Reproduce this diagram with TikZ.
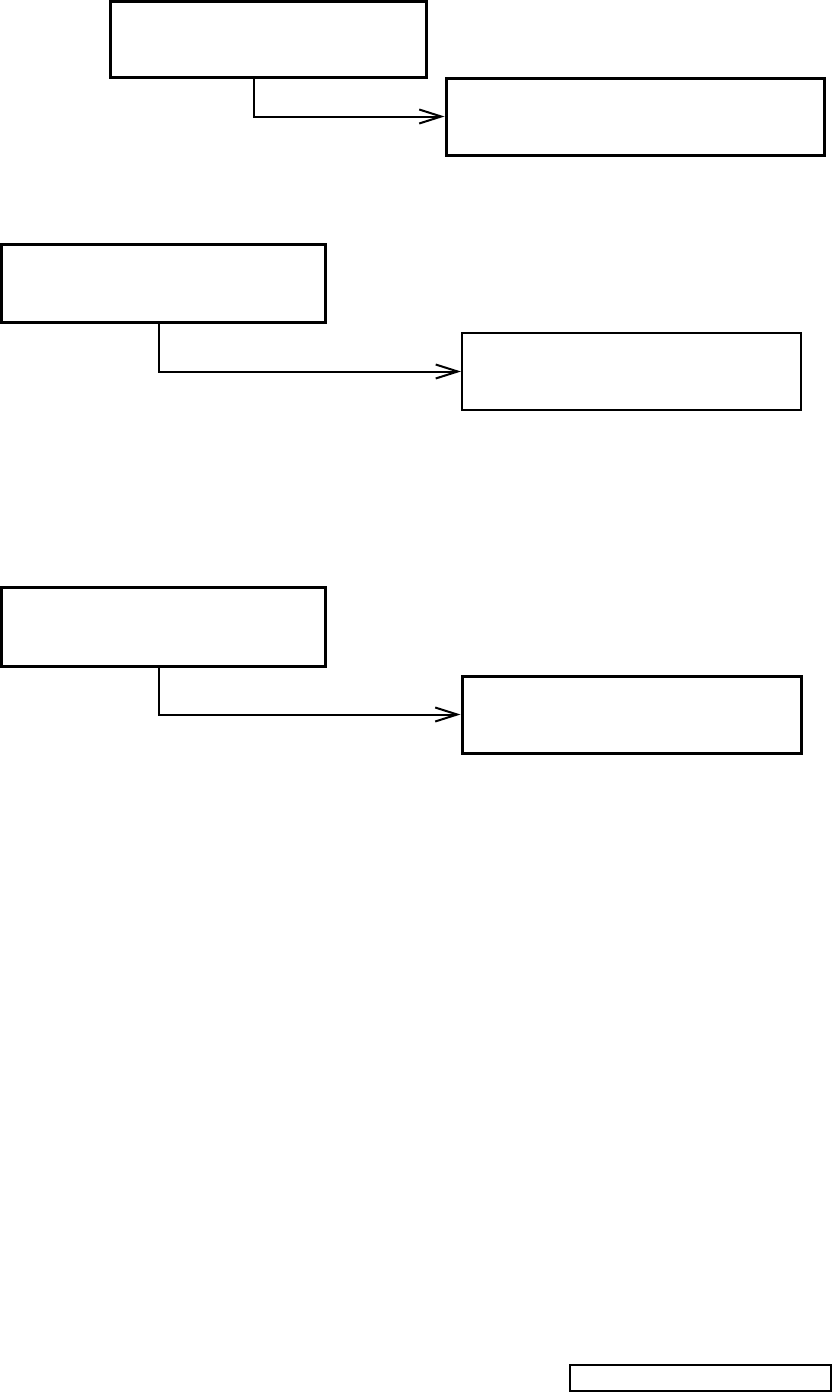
\documentclass[tikz,border=0pt]{standalone}
\usetikzlibrary{arrows.meta}
\begin{document}
\begin{tikzpicture}[x=0.5pt,y=-0.5pt,
  box/.style={draw=black,line width=1.5pt,rectangle,inner sep=0pt,fill=white},
  thinbox/.style={draw=black,line width=1pt,rectangle,inner sep=0pt,fill=white},
  conn/.style={draw=black,line width=1pt,-{Straight Barb[length=11pt,width=7pt,line width=1pt]}}]
\useasboundingbox (0,0) rectangle (832,1392);
\node[box,minimum width=158pt,minimum height=38pt] (A) at (268,39) {};
\node[box,minimum width=189pt,minimum height=38.5pt] (B) at (635,116.5) {};
\node[box,minimum width=162pt,minimum height=39pt] (C) at (163.5,283) {};
\node[thinbox,minimum width=169.5pt,minimum height=38.5pt] (D) at (631.5,371.5) {};
\node[box,minimum width=162pt,minimum height=39.5pt] (E) at (163.5,626.5) {};
\node[box,minimum width=169.5pt,minimum height=38.5pt] (F) at (631.5,714.5) {};
\node[thinbox,minimum width=130.5pt,minimum height=13pt] (G) at (700.5,1378) {};
\draw[conn] ([xshift=-7pt]A.south) |- (B.west);
\draw[conn] ([xshift=-2.5pt]C.south) |- (D.west);
\draw[conn] ([xshift=-2.5pt]E.south) |- (F.west);
\end{tikzpicture}
\end{document}
